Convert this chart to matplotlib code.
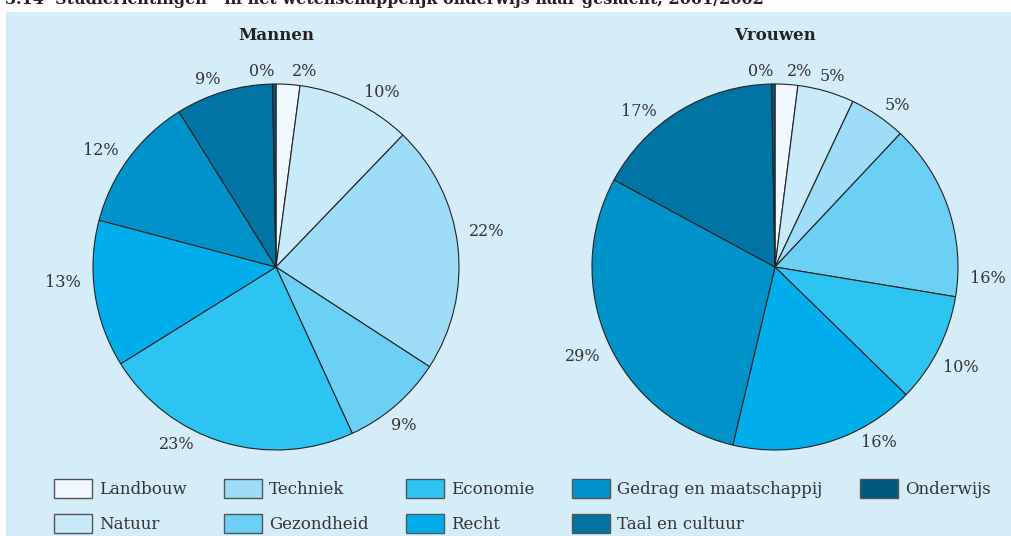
import matplotlib
matplotlib.use("Agg")
import numpy as np
import matplotlib.pyplot as plt
from matplotlib.patches import Rectangle, Patch

categories = ["Landbouw", "Natuur", "Techniek", "Gezondheid", "Economie",
              "Recht", "Gedrag en maatschappij", "Taal en cultuur", "Onderwijs"]
mannen = [2.1, 10.1, 22.0, 9.0, 23.0, 13.0, 12.0, 8.6, 0.3]
vrouwen = [2.0, 5.0, 5.0, 15.6, 9.7, 16.4, 29.2, 16.8, 0.3]
mannen_labels = ["2%", "10%", "22%", "9%", "23%", "13%", "12%", "9%", "0%"]
vrouwen_labels = ["2%", "5%", "5%", "16%", "10%", "16%", "29%", "17%", "0%"]
colors = ["#eff8fe", "#c9eaf9", "#9edcf7", "#6cd0f5", "#2ec4f2",
          "#00aeec", "#0093ca", "#0075a3", "#005a80"]

# small angular nudges (degrees, clockwise) of the percentage labels
mannen_nudge = [1, 1, -4, 5, 8, 4, 0, 0, 0]
vrouwen_nudge = [0, -3, 0, 22, 4, -10, -3, -6, 0]

W, H = 1011, 536
fig = plt.figure(figsize=(W / 100, H / 100), dpi=100, facecolor="white")
serif = ["DejaVu Serif"]
txt = "#333333"

fig.patches.append(Rectangle((6 / W, 0), 1, 1 - 12 / H, transform=fig.transFigure,
                             facecolor="#d5ecf9", edgecolor="none", zorder=-5))

fig.text(5 / W, 1 - 4 / H,
         "3.14  Studierichtingen¹⁾ in het wetenschappelijk onderwijs naar geslacht, 2001/2002",
         ha="left", va="baseline", fontsize=11.5, fontweight="bold",
         family=serif, color="#222222")

R = 183
LD = 1.07
for cx, vals, labs, nudge, title in [(276, mannen, mannen_labels, mannen_nudge, "Mannen"),
                                     (775, vrouwen, vrouwen_labels, vrouwen_nudge, "Vrouwen")]:
    cy = 267
    ax = fig.add_axes([(cx - R) / W, (H - cy - R) / H, 2 * R / W, 2 * R / H])
    ax.set_zorder(2)
    wedges, texts = ax.pie(vals, labels=labs, colors=colors, startangle=90,
                           counterclock=False, labeldistance=LD,
                           wedgeprops=dict(edgecolor="#222222", linewidth=0.8),
                           textprops=dict(fontsize=11.5, family=serif, color=txt))
    for w, t, nd in zip(wedges, texts, nudge):
        th = np.deg2rad((w.theta1 + w.theta2) / 2 - nd)
        x, y = LD * np.cos(th), LD * np.sin(th)
        t.set_position((x, y))
        t.set_horizontalalignment("left" if x > 0 else "right")
    ax.set_xlim(-1, 1)
    ax.set_ylim(-1, 1)
    ax.set_aspect("equal")
    ax.axis("off")
    fig.text(cx / W, 1 - 36 / H, title, ha="center", va="center",
             fontsize=12, fontweight="bold", family=serif, color="#222222")

fs = 12
px = fs * 100 / 72
handles = [Patch(facecolor=c, edgecolor="#555555", linewidth=1) for c in colors]
fig.legend(handles, categories, loc="center left", bbox_to_anchor=(54 / W, 1 - 506 / H),
           ncol=5, frameon=False, prop=dict(family=serif, size=fs),
           handlelength=38 / px, handleheight=23 / px, handletextpad=7 / px,
           columnspacing=37.5 / px, labelspacing=1.0, borderpad=0, borderaxespad=0,
           labelcolor=txt)

fig.savefig("out.png", dpi=100, facecolor="white")
